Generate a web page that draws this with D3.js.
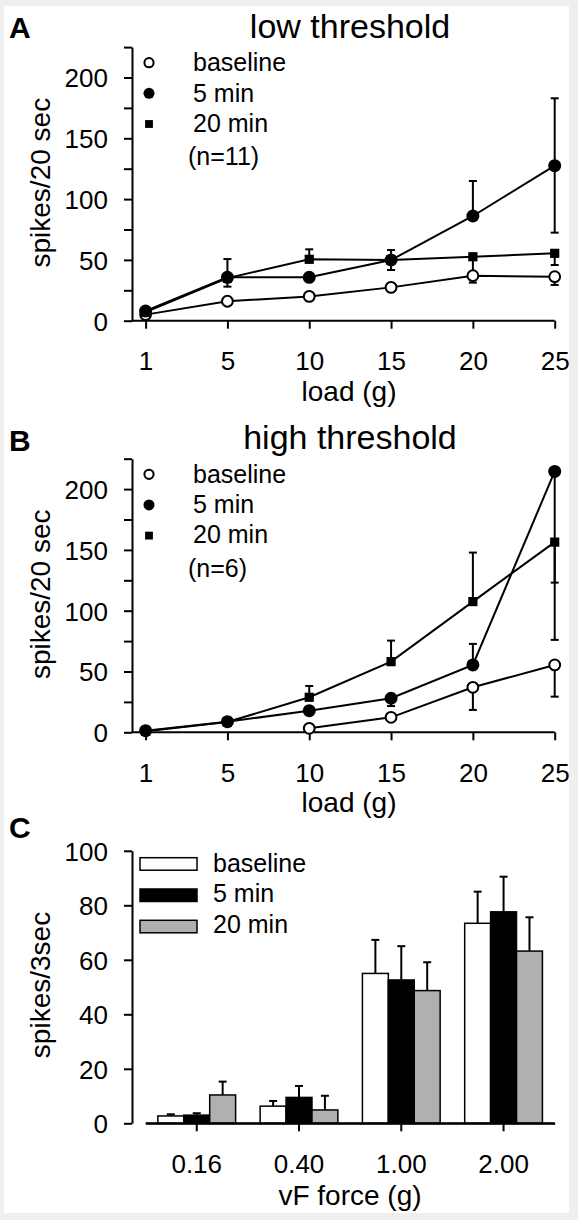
<!DOCTYPE html>
<html><head><meta charset="utf-8">
<script src="https://cdn.jsdelivr.net/npm/d3@7"></script>
<style>
html,body{margin:0;padding:0;background:#efefef;}
svg{display:block;font-family:"Liberation Sans",Arial,sans-serif;}
</style></head>
<body>
<svg id="chart" width="578" height="1220"></svg>
<script>
// ---------- DATA ----------
const loads = [1, 5, 10, 15, 20, 25];
const yTicksLine = [0, 25, 50, 75, 100, 125, 150, 175, 200, 225];
const seriesNames = ["baseline", "5 min", "20 min"];

// Panel A: low threshold (n=11)
const aBaseline   = [5, 16, 20, 27.4, 37, 36.2];
const aBaselineLo = [null, null, null, null, 31.3, 29.4];
const aBaselineHi = [null, null, null, null, null, null];
const a5min       = [8, 35.7, 35.7, 49.9, 86.1, 127.5];
const a5minLo     = [null, 28, null, 41.7, null, 72.4];
const a5minHi     = [null, 50.7, null, 58.1, 114.9, 182.9];
const a20min      = [7, 35, 50.5, 50, 52.6, 55.4];
const a20minLo    = [null, null, null, null, 40, 45.8];
const a20minHi    = [null, null, 58.7, null, null, null];

// Panel B: high threshold (n=6)
const bBaseline   = [null, null, 3.3, 12.3, 37, 55.4];
const bBaselineLo = [null, null, null, null, 18.4, 29.3];
const bBaselineHi = [null, null, null, null, null, null];
const b5min       = [1.3, 8.7, 17.8, 28, 55.4, 214.5];
const b5minLo     = [null, null, null, 21.6, null, 123.1];
const b5minHi     = [null, null, null, null, 72.7, null];
const b20min      = [0.8, 8.5, 28.8, 58.1, 107.5, 156.4];
const b20minLo    = [null, null, null, null, null, 76];
const b20minHi    = [null, null, 38.1, 75.4, 147.8, null];

// Panel C: vF force bars
const forces     = ["0.16", "0.40", "1.00", "2.00"];
const yTicksBar  = [0, 20, 40, 60, 80, 100];
const cBaseline    = [2.7, 6.3, 55, 73.4];
const cBaselineErr = [3.3, 8.2, 67.3, 85];
const c5min        = [3.0, 9.5, 52.6, 77.6];
const c5minErr     = [3.7, 13.7, 65, 90.5];
const c20min       = [10.4, 4.9, 48.7, 63.2];
const c20minErr    = [15.3, 10.1, 59.1, 75.6];

// ---------- DRAWING ----------
const svg = d3.select("#chart");
svg.append("rect").attr("x", 4).attr("y", 6).attr("width", 565).attr("height", 1207).attr("fill", "#fff");

const FONT_TICK = 26, FONT_LAB = 28, FONT_LEG = 25, FONT_TITLE = 34, FONT_LETTER = 30;
const AX_X = 132, X0 = 145.6, X1 = 554.7;

function styleAxis(g) {
  g.selectAll("path.domain").attr("stroke", "#000").attr("stroke-width", 2);
  g.selectAll(".tick line").attr("stroke", "#000").attr("stroke-width", 2);
  g.selectAll(".tick text").attr("font-size", FONT_TICK).attr("fill", "#000")
    .attr("font-family", '"Liberation Sans",Arial,sans-serif');
}

function linePanel(opt) {
  const y0 = opt.zeroY;
  const y = d3.scaleLinear().domain([0, 225]).range([y0, y0 - 225 * 60.8 / 50]);
  const x = d3.scalePoint().domain(loads).range([X0, X1]);

  // panel letter & title
  svg.append("text").attr("x", 9).attr("y", opt.letterY).attr("font-size", FONT_LETTER)
    .attr("font-weight", "bold").text(opt.letter);
  svg.append("text").attr("x", 350).attr("y", opt.titleY).attr("text-anchor", "middle")
    .attr("font-size", FONT_TITLE).text(opt.title);

  // y axis
  const gy = svg.append("g").attr("transform", `translate(${AX_X},0)`)
    .call(d3.axisLeft(y).tickValues(yTicksLine).tickSize(8).tickSizeOuter(0).tickPadding(16)
      .tickFormat(d => (d % 50 === 0 && d <= 200) ? d : ""));
  styleAxis(gy);
  gy.selectAll(".tick text").attr("dy", "0.36em");

  // x axis
  const gx = svg.append("g").attr("transform", `translate(0,${y0})`)
    .call(d3.axisBottom(x).tickSize(8).tickSizeOuter(0));
  styleAxis(gx);
  gx.select("path.domain").remove();
  gx.append("line").attr("x1", AX_X).attr("x2", X1).attr("y1", 0).attr("y2", 0)
    .attr("stroke", "#000").attr("stroke-width", 2);
  gx.selectAll(".tick text").attr("y", 49.3).attr("dy", 0);

  // axis labels
  svg.append("text").attr("x", 349).attr("y", y0 + 80).attr("text-anchor", "middle")
    .attr("font-size", FONT_LAB).text("load (g)");
  svg.append("text").attr("transform", `translate(50,${y0 - 138}) rotate(-90)`)
    .attr("text-anchor", "middle").attr("font-size", FONT_LAB).text("spikes/20 sec");

  const series = [
    {vals: opt.base, lo: opt.baseLo, hi: opt.baseHi, kind: "open"},
    {vals: opt.s20, lo: opt.s20Lo, hi: opt.s20Hi, kind: "square"},
    {vals: opt.s5, lo: opt.s5Lo, hi: opt.s5Hi, kind: "filled"}
  ];
  const line = d3.line().defined(d => d.v !== null).x(d => x(d.x)).y(d => y(d.v));
  const cap = 4;
  // error bars
  series.forEach(s => {
    loads.forEach((L, i) => {
      const v = s.vals[i];
      if (v === null) return;
      [s.lo[i], s.hi[i]].forEach(e => {
        if (e === null || e === undefined) return;
        svg.append("line").attr("x1", x(L)).attr("x2", x(L)).attr("y1", y(v)).attr("y2", y(e))
          .attr("stroke", "#000").attr("stroke-width", 2);
        svg.append("line").attr("x1", x(L) - cap).attr("x2", x(L) + cap).attr("y1", y(e)).attr("y2", y(e))
          .attr("stroke", "#000").attr("stroke-width", 2);
      });
    });
  });
  // lines
  series.forEach(s => {
    svg.append("path").datum(loads.map((L, i) => ({x: L, v: s.vals[i]})))
      .attr("d", line).attr("fill", "none").attr("stroke", "#000").attr("stroke-width", 2);
  });
  // markers
  series.forEach(s => {
    loads.forEach((L, i) => {
      const v = s.vals[i];
      if (v === null) return;
      drawMarker(s.kind, x(L), y(v), 1);
    });
  });

  // legend
  const legY = [y0 - 258, y0 - 227.4, y0 - 196.7];
  const legT = [y0 - 249.7, y0 - 219, y0 - 189];
  ["open", "filled", "square"].forEach((k, i) => {
    drawMarker(k, 149, legY[i], 0.85);
    svg.append("text").attr("x", 193).attr("y", legT[i]).attr("font-size", FONT_LEG)
      .text(seriesNames[i]);
  });
  svg.append("text").attr("x", 188).attr("y", y0 - 155.7).attr("font-size", FONT_LEG).text(opt.n);
}

function drawMarker(kind, cx, cy, s) {
  if (kind === "open") {
    svg.append("circle").attr("cx", cx).attr("cy", cy).attr("r", 5.4 * s)
      .attr("fill", "#fff").attr("stroke", "#000").attr("stroke-width", 2);
  } else if (kind === "filled") {
    svg.append("circle").attr("cx", cx).attr("cy", cy).attr("r", 6.5 * s).attr("fill", "#000");
  } else {
    const h = 4.6 * s;
    svg.append("rect").attr("x", cx - h).attr("y", cy - h).attr("width", 2 * h).attr("height", 2 * h)
      .attr("fill", "#000");
  }
}

linePanel({letter: "A", letterY: 38, title: "low threshold", titleY: 37.7, zeroY: 320.7, n: "(n=11)",
  base: aBaseline, baseLo: aBaselineLo, baseHi: aBaselineHi,
  s5: a5min, s5Lo: a5minLo, s5Hi: a5minHi,
  s20: a20min, s20Lo: a20minLo, s20Hi: a20minHi});
linePanel({letter: "B", letterY: 451, title: "high threshold", titleY: 449, zeroY: 732.3, n: "(n=6)",
  base: bBaseline, baseLo: bBaselineLo, baseHi: bBaselineHi,
  s5: b5min, s5Lo: b5minLo, s5Hi: b5minHi,
  s20: b20min, s20Lo: b20minLo, s20Hi: b20minHi});

// ---------- Panel C ----------
(function () {
  const y0 = 1123.3;
  const y = d3.scaleLinear().domain([0, 100]).range([y0, y0 - 100 * 54.5 / 20]);
  const x = d3.scaleBand().domain(forces).range([X0, X1]).paddingInner(0.24).paddingOuter(0.12);
  const xs = d3.scaleBand().domain(seriesNames).range([0, x.bandwidth()]);
  const fills = ["#fff", "#000", "#b0b0b0"];
  const vals = [cBaseline, c5min, c20min];
  const errs = [cBaselineErr, c5minErr, c20minErr];

  svg.append("text").attr("x", 9).attr("y", 838).attr("font-size", FONT_LETTER).attr("font-weight", "bold").text("C");

  const gy = svg.append("g").attr("transform", `translate(${AX_X},0)`)
    .call(d3.axisLeft(y).tickValues(yTicksBar).tickSize(8).tickSizeOuter(0).tickPadding(16));
  styleAxis(gy);
  gy.selectAll(".tick text").attr("dy", "0.36em");

  const gx = svg.append("g").attr("transform", `translate(0,${y0})`)
    .call(d3.axisBottom(x).tickSize(8).tickSizeOuter(0));
  styleAxis(gx);
  gx.selectAll(".tick text").attr("y", 50).attr("dy", 0);

  svg.append("text").attr("x", 350).attr("y", 1205).attr("text-anchor", "middle")
    .attr("font-size", FONT_LAB).text("vF force (g)");
  svg.append("text").attr("transform", `translate(50,985) rotate(-90)`)
    .attr("text-anchor", "middle").attr("font-size", FONT_LAB).text("spikes/3sec");

  const cap = 4;
  forces.forEach((f, i) => {
    seriesNames.forEach((s, j) => {
      const bx = x(f) + xs(s), bw = xs.bandwidth(), v = vals[j][i], e = errs[j][i];
      const cx = bx + bw / 2;
      svg.append("line").attr("x1", cx).attr("x2", cx).attr("y1", y(v)).attr("y2", y(e))
        .attr("stroke", "#000").attr("stroke-width", 2);
      svg.append("line").attr("x1", cx - cap).attr("x2", cx + cap).attr("y1", y(e)).attr("y2", y(e))
        .attr("stroke", "#000").attr("stroke-width", 2);
      svg.append("rect").attr("x", bx).attr("y", y(v)).attr("width", bw).attr("height", y(0) - y(v))
        .attr("fill", fills[j]).attr("stroke", "#000").attr("stroke-width", 1.5);
    });
  });
  svg.append("line").attr("x1", X0).attr("x2", X1).attr("y1", y0).attr("y2", y0)
    .attr("stroke", "#000").attr("stroke-width", 2);

  // legend
  const ry = [857.7, 889, 920.3];
  const ty = [871.7, 901.7, 933.3];
  seriesNames.forEach((s, j) => {
    svg.append("rect").attr("x", 140).attr("y", ry[j]).attr("width", 57).attr("height", 12.5)
      .attr("fill", fills[j]).attr("stroke", "#000").attr("stroke-width", 1.5);
    svg.append("text").attr("x", 213).attr("y", ty[j]).attr("font-size", FONT_LEG).text(s);
  });
})();
</script>
</body></html>
